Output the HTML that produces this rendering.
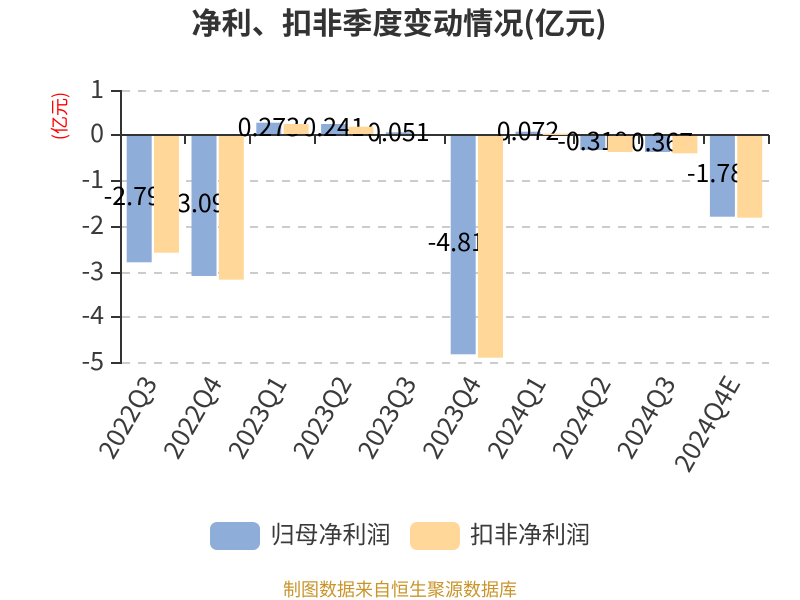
<!DOCTYPE html>
<html><head><meta charset="utf-8"><style>
html,body{margin:0;padding:0;background:#fff}
svg{display:block}
text{font-family:"Noto Sans CJK SC","Liberation Sans",sans-serif}
.y{font-size:25px;fill:#3a3a3a;text-anchor:end}
.x{font-size:25.5px;fill:#3a3a3a;text-anchor:end}
.v{font-size:25px;fill:#000;text-anchor:middle}
.b{fill:#8eadd9}
.o{fill:#ffd899}
</style></head><body>
<svg width="800" height="600" viewBox="0 0 800 600" xmlns="http://www.w3.org/2000/svg">
<text x="399" y="34" text-anchor="middle" font-size="30.2" font-weight="700" fill="#333">净利、扣非季度变动情况(亿元)</text>
<text transform="translate(66,116) rotate(-90)" text-anchor="middle" font-size="18" fill="#f00">(亿元)</text>

<g stroke="#ccc" stroke-width="2" stroke-dasharray="8 8" fill="none">
<path d="M122 91H769M122 181H769M122 227H769M122 273H769M122 317H769M122 363H769"/>
</g>

<g stroke="#333" stroke-width="2" fill="none">
<path d="M121 90V364"/>
<path d="M111 91H121M111 135H121M111 181H121M111 227H121M111 273H121M111 317H121M111 363H121"/>
<path d="M121 135H769"/>
<path d="M185 135V144M250 135V144M315 135V144M380 135V144M445 135V144M509 135V144M574 135V144M639 135V144M704 135V144M769 135V144"/>
</g>

<text class="y" x="104" y="98">1</text>
<text class="y" x="104" y="142">0</text>
<text class="y" x="104" y="188">-1</text>
<text class="y" x="104" y="234">-2</text>
<text class="y" x="104" y="280">-3</text>
<text class="y" x="104" y="324">-4</text>
<text class="y" x="104" y="370">-5</text>

<rect class="b" x="126.7" y="136" width="25" height="126.3"/>
<rect class="b" x="191.5" y="136" width="25" height="140"/>
<rect class="b" x="256.3" y="122.7" width="25" height="11.3"/>
<rect class="b" x="321.1" y="124" width="25" height="10"/>
<rect class="b" x="385.9" y="132.3" width="25" height="1.7"/>
<rect class="b" x="450.7" y="136" width="25" height="218.3"/>
<rect class="b" x="515.5" y="131.7" width="25" height="2.3"/>
<rect class="b" x="580.3" y="136" width="25" height="14"/>
<rect class="b" x="645.1" y="136" width="25" height="16"/>
<rect class="b" x="709.9" y="136" width="25" height="80.7"/>

<text class="v" x="139.2" y="205">-2.791</text>
<text class="v" x="204" y="212">-3.091</text>
<text class="v" x="268.8" y="136">0.273</text>
<text class="v" x="333.6" y="136">0.241</text>
<text class="v" x="398.4" y="141">0.051</text>
<text class="v" x="463.2" y="251">-4.811</text>
<text class="v" x="528" y="140">0.072</text>
<text class="v" x="592.8" y="150">-0.319</text>
<text class="v" x="657.6" y="151">-0.367</text>
<text class="v" x="722.4" y="182">-1.781</text>

<rect class="o" x="154" y="136" width="25" height="116.7"/>
<rect class="o" x="218.8" y="136" width="25" height="143.7"/>
<rect class="o" x="283.6" y="124" width="25" height="10"/>
<rect class="o" x="348.4" y="126.7" width="25" height="7.3"/>
<rect class="o" x="478" y="136" width="25" height="221.7"/>
<rect class="o" x="542.8" y="133.6" width="25" height="1.4"/>
<rect class="o" x="607.6" y="136" width="25" height="16"/>
<rect class="o" x="672.4" y="136" width="25" height="17.3"/>
<rect class="o" x="737.2" y="136" width="25" height="81.7"/>

<text class="x" transform="translate(158,383) rotate(-60)">2022Q3</text>
<text class="x" transform="translate(222.8,383) rotate(-60)">2022Q4</text>
<text class="x" transform="translate(287.6,383) rotate(-60)">2023Q1</text>
<text class="x" transform="translate(352.4,383) rotate(-60)">2023Q2</text>
<text class="x" transform="translate(417.2,383) rotate(-60)">2023Q3</text>
<text class="x" transform="translate(482,383) rotate(-60)">2023Q4</text>
<text class="x" transform="translate(546.8,383) rotate(-60)">2024Q1</text>
<text class="x" transform="translate(611.6,383) rotate(-60)">2024Q2</text>
<text class="x" transform="translate(676.4,383) rotate(-60)">2024Q3</text>
<text class="x" transform="translate(741.2,383) rotate(-60)">2024Q4E</text>

<rect class="b" x="210" y="522" width="50" height="28" rx="7"/>
<text x="270.5" y="543" font-size="24" fill="#3a3a3a">归母净利润</text>
<rect class="o" x="410" y="522" width="50" height="28" rx="7"/>
<text x="470" y="543" font-size="24" fill="#3a3a3a">扣非净利润</text>

<text x="400" y="596" text-anchor="middle" font-size="18" fill="#c9952b">制图数据来自恒生聚源数据库</text>
</svg>
</body></html>
